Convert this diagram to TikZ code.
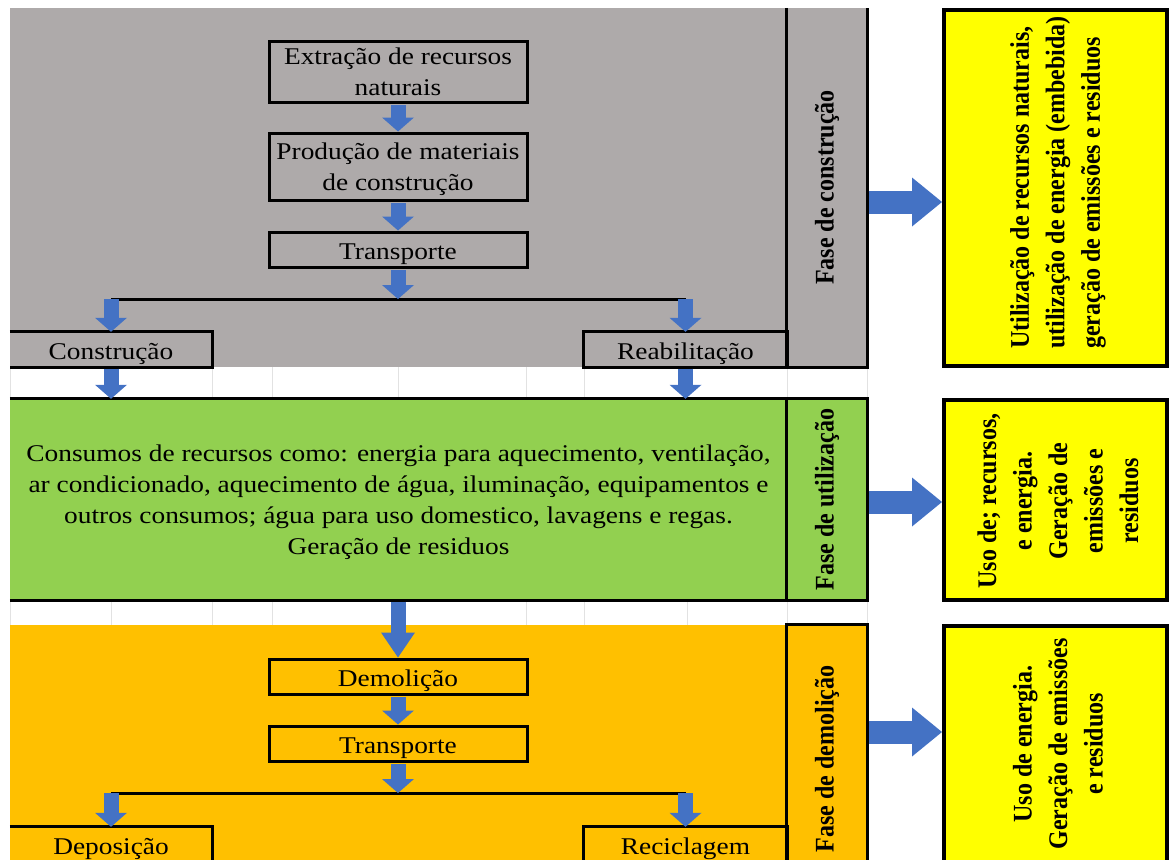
\documentclass[tikz,border=0pt]{standalone}
\usepackage{fontspec}
\usepackage{graphicx}
\setmainfont{Liberation Serif}
\newfontfamily\hfont[FakeStretch=1.14]{Liberation Serif}
\newfontfamily\vfont[FakeStretch=0.893]{Liberation Serif}
\usetikzlibrary{arrows.meta}
\definecolor{phasegray}{HTML}{AEAAAA}
\definecolor{phasegreen}{HTML}{92D050}
\definecolor{phaseorange}{HTML}{FFC000}
\definecolor{impactyellow}{HTML}{FFFF00}
\definecolor{flowblue}{HTML}{4472C4}
\definecolor{gridgray}{HTML}{E2E2E2}
\newcommand\bxfont{\hfont\fontsize{24pt}{31pt}\selectfont}
\newcommand\sdfont{\vfont\bfseries\fontsize{26.9pt}{35.5pt}\selectfont}

\begin{document}
\begin{tikzpicture}[x=1pt,y=-1pt,
  stepbox/.style={draw=black,line width=3pt,inner sep=0pt,align=center,font=\bxfont,minimum width=258pt,minimum height=35pt},
  endbox/.style={inner sep=0pt,align=center,font=\bxfont,minimum width=202pt,minimum height=35pt},
  oneline/.style={text height=24pt,text depth=5pt},
  area/.style={inner sep=0pt,minimum width=777pt},
  column/.style={inner sep=0pt,minimum width=80pt},
  outbox/.style={draw=black,line width=4pt,fill=impactyellow,inner sep=0pt,minimum width=223pt},
  vlabel/.style={rotate=90,font=\sdfont,inner sep=0pt},
  flow/.style={draw=flowblue,line width=15pt,-{Triangle[length=14pt,width=32pt,line width=0pt]}},
  flowlong/.style={draw=flowblue,line width=15pt,-{Triangle[length=25pt,width=34pt,line width=0pt]}},
  outflow/.style={draw=flowblue,line width=23pt,-{Triangle[length=30pt,width=49pt,line width=0pt]}},
  split/.style={draw=black,line width=3pt},
  frame/.style={draw=black,line width=3pt},
  grid/.style={draw=gridgray,line width=0.8pt}
]
\useasboundingbox (0,0) rectangle (1169,859);
\clip (0,0) rectangle (1169,859);

% phase backgrounds
\fill[phasegray] (10,8) rectangle (867,367);
\fill[phasegreen] (10,399) rectangle (867,600);
\fill[phaseorange] (10,625) rectangle (867,900);

% sheet gridlines in the gaps between phases
\foreach \gx in {10,111,212,272,398,526,584,687,787,867} {
  \draw[grid] (\gx,367) -- (\gx,399);
  \draw[grid] (\gx,600) -- (\gx,625);
}

% ---------- construction phase ----------
\node[stepbox,minimum height=60pt] (ext) at (398,72) {Extração de recursos\\naturais};
\node[stepbox,minimum height=67pt,text depth=0pt] (prod) at (398,166.5) {Produção de materiais\\de construção};
\node[stepbox,oneline] (tr1) at (398,249.5) {Transporte};
\node[endbox,oneline] (constr) at (111,349.5) {Construção};
\node[endbox,oneline,minimum width=203pt] (reab) at (685.5,349.5) {Reabilitação};
\node[column,minimum height=359pt] (col1) at (827,187.5) {};
\draw[frame] (constr.north west) -- (constr.north east) -- (constr.south east) -- (constr.south west);
\draw[frame] (reab.south west) rectangle (reab.north east);
\draw[frame] (col1.north west) -- (col1.south west) -- (col1.south east) -- (col1.north east);
\node[vlabel] (lab1) at (col1.center) {Fase de construção};

\coordinate (fork1) at (398,299);
\draw[split] (constr.north |- fork1) -- (reab.north |- fork1);
\draw[flow] ([yshift=-1.5pt]ext.south) -- (prod.north);
\draw[flow] ([yshift=-1.5pt]prod.south) -- (tr1.north);
\draw[flow] ([yshift=-1.5pt]tr1.south) -- (fork1);
\draw[flow] (constr.north |- fork1) -- (constr.north);
\draw[flow] (reab.north |- fork1) -- (reab.north);

% ---------- use phase ----------
\node[area,minimum height=201pt] (use) at (398.5,499.5) {};
\node[font=\bxfont,align=center,inner sep=0pt,yshift=-3pt] (usetxt) at (use.center)
  {Consumos de recursos como: energia para aquecimento, ventilação,\\
   ar condicionado, aquecimento de água, iluminação, equipamentos e\\
   outros consumos; água para uso domestico, lavagens e regas.\\
   Geração de residuos};
\node[column,minimum height=201pt] (col2) at (827,499.5) {};
\draw[frame] (use.north west) -- (col2.north west);
\draw[frame] (use.south west) -- (col2.south west);
\draw[frame] (col2.south west) rectangle (col2.north east);
\node[vlabel] (lab2) at (col2.center) {Fase de utilização};

\draw[flow] ([yshift=-1.5pt]constr.south) -- (constr.south |- use.north);
\draw[flow] ([yshift=-1.5pt]reab.south) -- (reab.south |- use.north);

% ---------- demolition phase ----------
\node[stepbox,oneline] (dem) at (398,676.5) {Demolição};
\node[stepbox,oneline] (tr2) at (398,743.5) {Transporte};
\node[endbox,oneline] (dep) at (111,844.5) {Deposição};
\node[endbox,oneline,minimum width=203pt] (rec) at (685.5,844.5) {Reciclagem};
\node[column,minimum height=268pt] (col3) at (827,759) {};
\draw[frame] (dep.north west) -- (dep.north east) -- (dep.south east) -- (dep.south west);
\draw[frame] (rec.south west) rectangle (rec.north east);
\draw[frame] (col3.south west) -- (col3.north west) -- (col3.north east) -- (col3.south east);
\node[vlabel] (lab3) at (col3.center) {Fase de demolição};

\coordinate (fork2) at (398,793);
\draw[split] (dep.north |- fork2) -- (rec.north |- fork2);
\draw[flowlong] ([yshift=-1.5pt]use.south -| dem.north) -- (dem.north);
\draw[flow] ([yshift=-1.5pt]dem.south) -- (tr2.north);
\draw[flow] ([yshift=-1.5pt]tr2.south) -- (fork2);
\draw[flow] (dep.north |- fork2) -- (dep.north);
\draw[flow] (rec.north |- fork2) -- (rec.north);

% ---------- impacts of each phase ----------
\node[outbox,minimum height=355.5pt] (out1) at (1055.5,187.75) {};
\node[vlabel,align=left] (txt1) at (1058,182.5)
  {Utilização de recursos naturais,\\utilização de energia (embebida)\\geração de emissões e residuos};
\node[outbox,minimum height=200pt] (out2) at (1055.5,500) {};
\node[vlabel,align=center] (txt2) at (1058,501)
  {Uso de; recursos,\\e energia.\\Geração de\\emissões e\\residuos};
\node[outbox,minimum height=274pt] (out3) at (1055.5,763) {};
\node[vlabel,align=center] (txt3) at (1058,744)
  {Uso de energia.\\Geração de emissões\\e residuos};

\coordinate (o1) at (0,202);
\coordinate (o2) at (0,502);
\coordinate (o3) at (0,732);
\draw[outflow] ([xshift=1.5pt]col1.east |- o1) -- (out1.west |- o1);
\draw[outflow] ([xshift=1.5pt]col2.east |- o2) -- (out2.west |- o2);
\draw[outflow] ([xshift=1.5pt]col3.east |- o3) -- (out3.west |- o3);
\end{tikzpicture}
\end{document}
